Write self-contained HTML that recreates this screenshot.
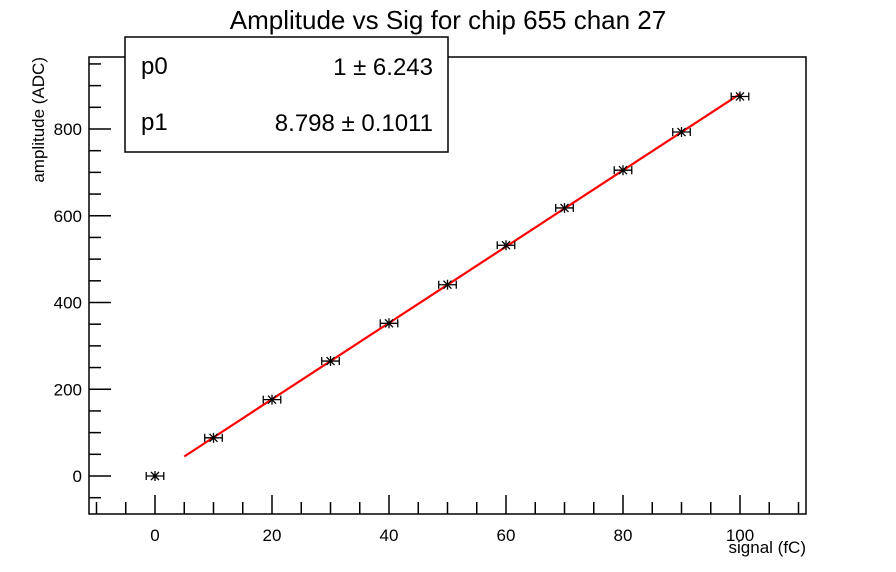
<!DOCTYPE html>
<html><head><meta charset="utf-8"><style>
body{margin:0;background:#fff}
svg{display:block;font-family:"Liberation Sans",sans-serif}
</style></head><body>
<svg id="c" width="896" height="572"></svg>
<script>
const xVals=[0,10,20,30,40,50,60,70,80,90,100];
const yVals=[0,88,176,265,352,441,532,618,705,793,875];
const xTicks=[0,20,40,60,80,100];
const yTicks=[0,200,400,600,800];
const fitP0=1, fitP1=8.798;
const fitRange=[5,100];
const xErr=1.5;
const NS="http://www.w3.org/2000/svg";
const svg=document.getElementById('c');
const L=89,R=806,T=57,B=514;
const X=v=>155+v*5.85;
const Y=v=>476-v*0.43375;
function el(tag,attrs,parent){const e=document.createElementNS(NS,tag);for(const k in attrs)e.setAttribute(k,attrs[k]);(parent||svg).appendChild(e);return e;}
let t=el('text',{x:448,y:29,'font-size':26,'text-anchor':'middle'});


t.textContent='Amplitude vs Sig for chip 655 chan 27';
let f=el('rect',{x:L,y:T,width:R-L,height:B-T,fill:'none',stroke:'#000','stroke-width':1.5});


// x ticks
for(let v=-10;v<=110;v+=5){const major=v%20===0;const len=major?19:12;
 el('line',{x1:X(v),x2:X(v),y1:B,y2:B-len,stroke:'#000','stroke-width':1.5});}
xTicks.forEach(v=>{const e=el('text',{x:X(v),y:541,'font-size':17,'text-anchor':'middle'});
 
 
 e.textContent=v;});
for(let v=-50;v<=950;v+=50){const major=v%200===0;const len=major?22:12;
 if(Y(v)<T||Y(v)>B)continue;
 el('line',{x1:L,x2:L+len,y1:Y(v),y2:Y(v),stroke:'#000','stroke-width':1.5});}
yTicks.forEach(v=>{const e=el('text',{x:82,y:Y(v)+6,'font-size':17,'text-anchor':'end'});
 
 
 e.textContent=v;});
let xt=el('text',{x:806,y:553,'font-size':17,'text-anchor':'end'});


xt.textContent='signal (fC)';
let yt=el('text',{x:0,y:0,'font-size':17,'text-anchor':'end',transform:'translate(44,57) rotate(-90)'});


yt.textContent='amplitude (ADC)';
// fit line
let fl=el('line',{x1:X(fitRange[0]),y1:Y(fitP0+fitP1*fitRange[0]),x2:X(fitRange[1]),y2:Y(fitP0+fitP1*fitRange[1]),stroke:'#f00','stroke-width':2.2});


// points
xVals.forEach((xv,i)=>{const cx=X(xv),cy=Y(yVals[i]);
 const g=el('g',{stroke:'#000','stroke-width':1.3});
 
 
 el('line',{x1:X(xv-xErr),x2:X(xv+xErr),y1:cy,y2:cy},g);
 el('line',{x1:X(xv-xErr),x2:X(xv-xErr),y1:cy-4,y2:cy+4},g);
 el('line',{x1:X(xv+xErr),x2:X(xv+xErr),y1:cy-4,y2:cy+4},g);
 el('line',{x1:cx,x2:cx,y1:cy-5,y2:cy+5},g);
 el('line',{x1:cx-4,x2:cx+4,y1:cy-4,y2:cy+4},g);
 el('line',{x1:cx-4,x2:cx+4,y1:cy+4,y2:cy-4},g);
});
// stats box
const sb=el('g',{});


el('rect',{x:125,y:37,width:323,height:115,fill:'#fff',stroke:'#000','stroke-width':1.5},sb);
[['p0','1 \u00b1 6.243',74],['p1','8.798 \u00b1 0.1011',130]].forEach(r=>{
 const a=el('text',{x:141,y:r[2],'font-size':24},sb);a.textContent=r[0];
 const b=el('text',{x:433,y:r[2]+1,'font-size':24,'text-anchor':'end'},sb);b.textContent=r[1];});
</script>
</body></html>
